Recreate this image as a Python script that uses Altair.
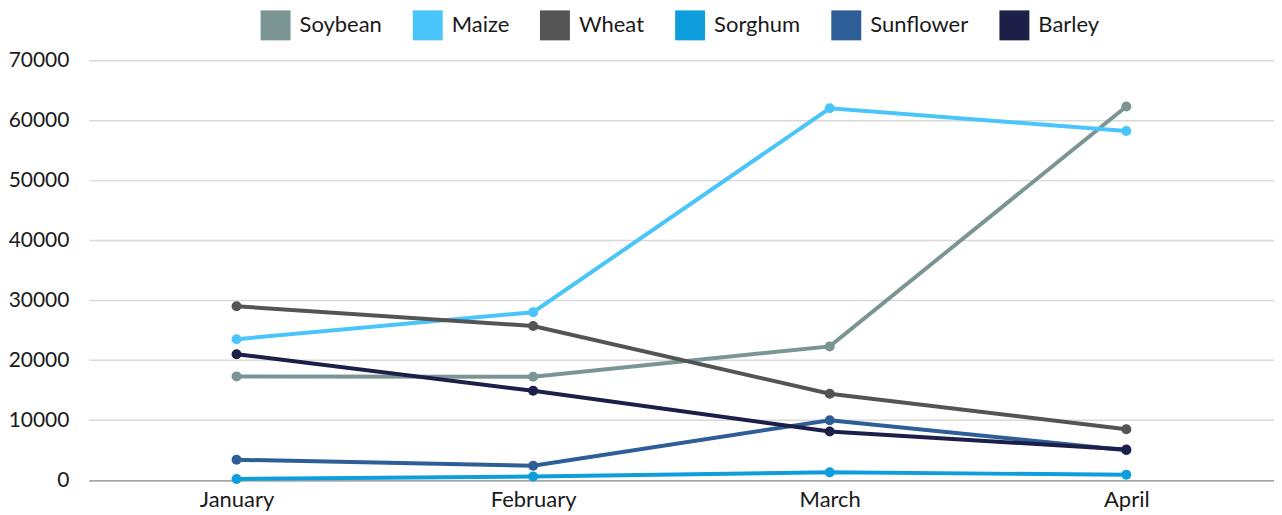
import altair as alt
import pandas as pd

months = ["January", "February", "March", "April"]
series = ["Soybean", "Maize", "Wheat", "Sorghum", "Sunflower", "Barley"]
soybean = [17300, 17250, 22300, 62300]
maize = [23500, 28000, 62000, 58200]
wheat = [29000, 25700, 14400, 8500]
sorghum = [200, 600, 1300, 900]
sunflower = [3400, 2400, 10000, 5000]
barley = [21000, 14900, 8100, 5100]
colors = ["#7A9594", "#4AC5FA", "#545454", "#0E9EDB", "#2E5E97", "#1C1F47"]
y_ticks = [0, 10000, 20000, 30000, 40000, 50000, 60000, 70000]

values = [soybean, maize, wheat, sorghum, sunflower, barley]
rows = []
for s, vals in zip(series, values):
    for m, v in zip(months, vals):
        rows.append({"month": m, "crop": s, "value": v})
df = pd.DataFrame(rows)

FONT = "Lato"

x_enc = alt.X("month:N", sort=months, title=None,
              scale=alt.Scale(type="point", padding=0.498),
              axis=alt.Axis(labelAngle=0, ticks=False, domain=True,
                            domainColor="#A6A6A6", domainWidth=1.5,
                            labelPadding=9, labelFontSize=22, labelFont=FONT,
                            labelColor="#1a1a1a", grid=False))
y_enc = alt.Y("value:Q", title=None,
              scale=alt.Scale(domain=[0, 70000], nice=False),
              axis=alt.Axis(values=y_ticks, format="d", ticks=False, domain=False,
                            gridColor="#D9D9D9", gridWidth=1.5,
                            labelPadding=20, labelFontSize=21, labelFont=FONT,
                            labelColor="#1a1a1a", minExtent=79, maxExtent=79))
color_scale = alt.Scale(domain=series, range=colors)
legend = alt.Legend(title=None, orient="none", legendX=172, legendY=-50,
                    direction="horizontal", columns=6,
                    symbolType="square", symbolSize=900,
                    symbolStrokeWidth=0, symbolOpacity=1,
                    labelFontSize=22, labelFont=FONT,
                    labelColor="#1a1a1a", labelOffset=9,
                    columnPadding=30.4)
color_enc = alt.Color("crop:N", scale=color_scale, sort=series, legend=legend)

base = alt.Chart(df)
lines = base.mark_line(strokeWidth=4).encode(
    x=x_enc, y=y_enc, color=color_enc,
)
points = base.mark_point(filled=True, size=100, opacity=1).encode(
    x=x_enc, y=y_enc, color=color_enc,
)

chart = alt.layer(lines, points).properties(
    width=1187, height=420.5,
    padding={"left": 0, "right": 0, "top": 2, "bottom": 0},
).configure(font=FONT).configure_view(stroke=None)

chart.save("out.html", embed_options={"renderer": "svg", "actions": False})
